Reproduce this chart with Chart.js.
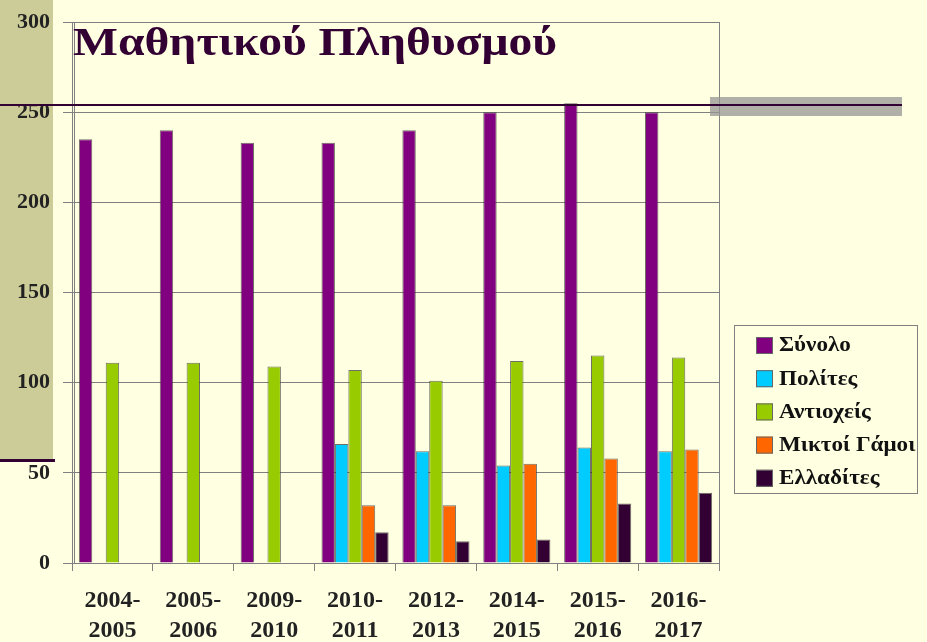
<!DOCTYPE html>
<html>
<head>
<meta charset="utf-8">
<script src="https://cdn.jsdelivr.net/npm/chart.js@4.4.0/dist/chart.umd.min.js"></script>
<style>
  html, body { margin: 0; padding: 0; background: #ffffe1; }
  #wrap { position: relative; width: 927px; height: 642px; }
</style>
</head>
<body>
<div id="wrap"><canvas id="chart" width="927" height="642"></canvas></div>
<script>
var years = [['2004-', '2005'], ['2005-', '2006'], ['2009-', '2010'], ['2010-', '2011'],
             ['2012-', '2013'], ['2014-', '2015'], ['2015-', '2016'], ['2016-', '2017']];
var synolo = [235, 240, 233, 233, 240, 250, 255, 250];
var polites = [null, null, null, 66, 62, 54, 64, 62];
var antiocheis = [111, 111, 109, 107, 101, 112, 115, 114];
var miktoi = [null, null, null, 32, 32, 55, 58, 63];
var elladites = [null, null, null, 17, 12, 13, 33, 39];
var seriesNames = ['Σύνολο', 'Πολίτες', 'Αντιοχείς', 'Μικτοί Γάμοι', 'Ελλαδίτες'];
var seriesColors = ['#800080', '#00ccff', '#99cc00', '#ff6600', '#330033'];
var titleText = 'Μαθητικού Πληθυσμού';

var serif = '"Liberation Serif", "Times New Roman", serif';
var bg = '#ffffe1';

// slide decoration behind the chart + title overlapping the plot
var decor = {
    id: 'decor',
    beforeDraw: (chart) => {
        var c = chart.ctx;
        c.save();
        c.fillStyle = bg;
        c.fillRect(0, 0, chart.width, chart.height);
        c.fillStyle = '#cccc99';
        c.fillRect(0, 0, 53, 460);
        c.fillStyle = '#330033';
        c.fillRect(0, 459, 55, 3);
        c.restore();
    },
    afterDraw: (chart) => {
        var c = chart.ctx;
        var a = chart.chartArea;
        c.save();
        c.strokeStyle = '#808080';
        c.lineWidth = 1;
        c.strokeRect(a.left + 0.5, a.top + 0.5, a.right - a.left, a.bottom - a.top);
        c.beginPath();
        c.moveTo(a.left + 2.5, a.top);
        c.lineTo(a.left + 2.5, a.bottom);
        c.stroke();

        // gray band + line at the right
        c.fillStyle = 'rgba(150,150,150,0.75)';
        c.fillRect(710, 97, 192, 19);
        c.fillStyle = '#330033';
        c.fillRect(0, 104, 902, 2);

        // title text, stretched like on the slide
        c.fillStyle = '#330033';
        c.font = 'bold 41px ' + serif;
        c.textBaseline = 'alphabetic';
        var w = c.measureText(titleText).width;
        c.save();
        c.translate(73, 55);
        c.scale(484 / w, 1);
        c.fillText(titleText, 0, 0);
        c.restore();

        // legend
        c.fillStyle = bg;
        c.fillRect(734, 325, 183, 168);
        c.strokeStyle = '#808080';
        c.strokeRect(734.5, 325.5, 183, 168);
        c.font = 'bold 21px ' + serif;
        c.textBaseline = 'middle';
        chart.data.datasets.forEach((ds, i) => {
            var y = 345 + i * 33.2;
            c.fillStyle = ds.backgroundColor;
            c.fillRect(756, y - 8, 17, 17);
            c.strokeStyle = '#666';
            c.strokeRect(756.5, y - 7.5, 16, 16);
            c.fillStyle = '#111';
            c.save();
            c.translate(779, y + 1);
            c.scale(1.1, 1);
            c.fillText(ds.label, 0, 0);
            c.restore();
        });
        c.restore();
    }
};

var data = [synolo, polites, antiocheis, miktoi, elladites];
var datasets = [];
for (let i = 0; i < data.length; i++) {
    datasets.push({
        label: seriesNames[i],
        data: data[i],
        backgroundColor: seriesColors[i],
        borderColor: 'rgba(50,50,50,0.7)',
        borderWidth: 1,
        borderSkipped: 'bottom',
        categoryPercentage: 0.83,
        barPercentage: 1.0
    });
}

var ctx = document.getElementById('chart').getContext('2d');
var myChart = new Chart(ctx, {
    type: 'bar',
    data: {
        labels: years,
        datasets: datasets
    },
    options: {
        responsive: false,
        animation: false,
        layout: { padding: { left: 0, top: 22, right: 208, bottom: 0 } },
        plugins: {
            legend: { display: false },
            tooltip: { enabled: false }
        },
        scales: {
            x: {
                afterFit: (s) => { s.height = 79; },
                grid: { drawOnChartArea: false, tickLength: 8, color: '#808080', offset: true },
                border: { display: false },
                ticks: {
                    color: '#222',
                    padding: 14,
                    maxRotation: 0,
                    font: { family: serif, size: 24, weight: 'bold', lineHeight: 1.28 }
                }
            },
            y: {
                min: 0,
                max: 300,
                afterFit: (s) => { s.width = 72; s.paddingTop = 0; s.paddingBottom = 0; },
                grid: { color: '#808080', tickLength: 9 },
                border: { color: '#808080' },
                ticks: {
                    stepSize: 50,
                    color: '#222',
                    padding: 13,
                    font: { family: serif, size: 22, weight: 'bold', lineHeight: 1 }
                }
            }
        }
    },
    plugins: [decor]
});
</script>
</body>
</html>
